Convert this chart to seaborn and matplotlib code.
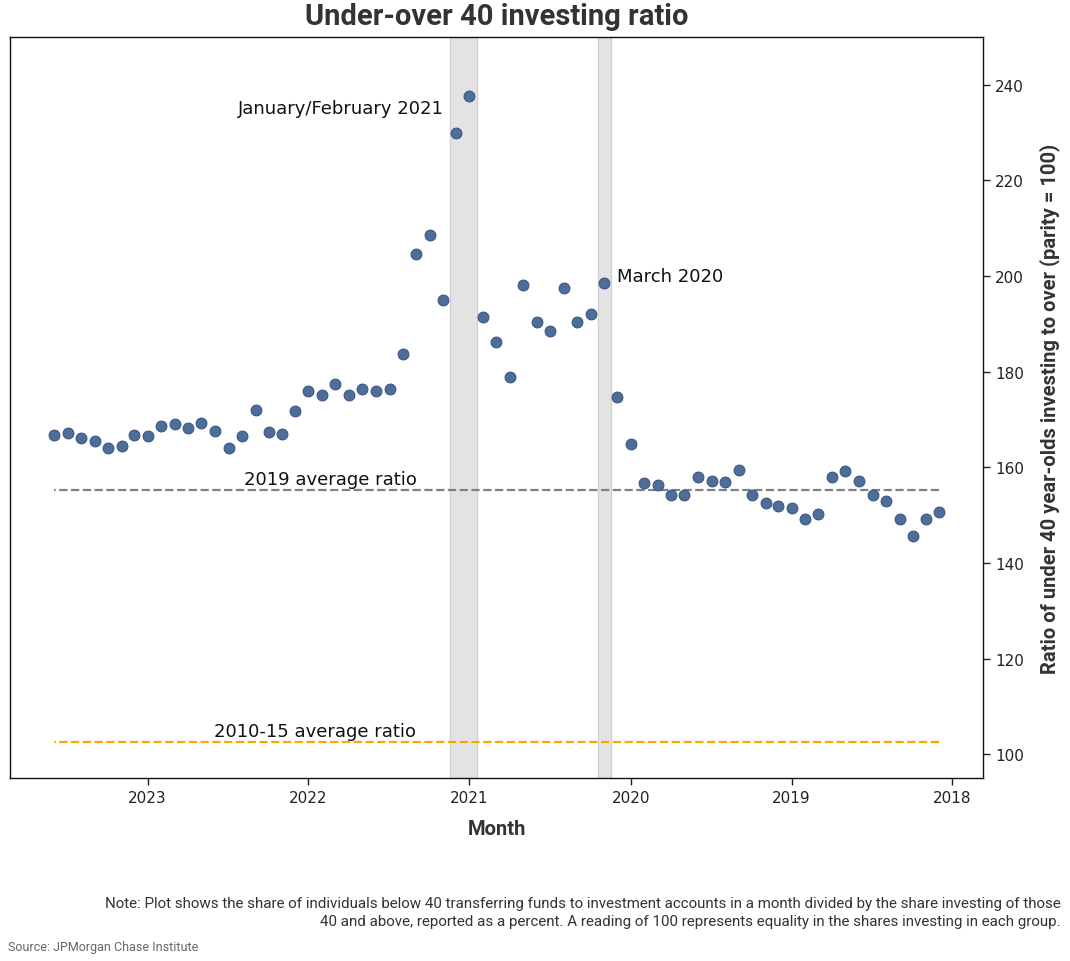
import matplotlib
matplotlib.use("Agg")
import matplotlib.pyplot as plt
import matplotlib.dates as mdates
import numpy as np
import pandas as pd
import seaborn as sns

# ---------------- data ----------------
start_month = "2018-02-01"
end_month = "2023-08-01"
ratio = [
    150.6, 149.2, 145.6, 149.2, 153.0, 154.3, 157.1, 159.2, 157.9, 150.2, 149.2,   # Feb-Dec 2018
    151.4, 151.8, 152.5, 154.1, 159.4, 157.0, 157.1, 158.0, 154.1, 154.1, 156.3, 156.7,  # 2019
    164.8, 174.8, 198.6, 192.1, 190.3, 197.4, 188.6, 190.3, 198.2, 178.8, 186.1, 191.5,  # 2020
    237.7, 229.9, 194.9, 208.6, 204.7, 183.6, 176.3, 175.9, 176.3, 175.2, 177.4, 175.2,  # 2021
    176.0, 171.7, 166.9, 167.3, 171.9, 166.5, 164.0, 167.5, 169.2, 168.2, 169.0, 168.6,  # 2022
    166.6, 166.7, 164.4, 164.0, 165.4, 166.1, 167.1, 166.8,                              # Jan-Aug 2023
]
avg_2019 = 155.3
avg_2010_15 = 102.6
shade_periods = [("2020-02-15", "2020-03-15"), ("2020-12-15", "2021-02-15")]
annotations = [
    ("2021-03-01", 235.1, "January/February 2021", "right"),
    ("2020-02-01", 200.0, "March 2020", "left"),
]
title = "Under-over 40 investing ratio"
xlabel = "Month"
ylabel = "Ratio of under 40 year-olds investing to over (parity = 100)"
note = ("Note: Plot shows the share of individuals below 40 transferring funds to investment accounts in a month divided by the share investing of those\n"
        "40 and above, reported as a percent. A reading of 100 represents equality in the shares investing in each group.")
source = "Source: JPMorgan Chase Institute"

months = pd.date_range(start_month, end_month, freq="MS")
df = pd.DataFrame({"month": months, "ratio": ratio})

# ---------------- style ----------------
sns.set_style("ticks")
plt.rcParams["font.family"] = ["DejaVu Sans"]
narrow = ["Roboto", "DejaVu Sans"]

fig = plt.figure(figsize=(10.7, 9.62), dpi=100)
ax = fig.add_axes([0.0093, 0.1902, 0.9094, 0.7703])

for a, b in shade_periods:
    ax.axvspan(pd.Timestamp(a), pd.Timestamp(b), facecolor="#e3e3e3",
               edgecolor="#d2d2d2", linewidth=1.0, zorder=0)

sns.scatterplot(data=df, x="month", y="ratio", ax=ax, color="#4e6e9a",
                edgecolor="#3a5885", linewidth=0.8, s=60, zorder=3, legend=False)

ax.hlines(avg_2019, months[0], months[-1], colors="#808080", linestyles="--",
          linewidth=1.6, zorder=2)
ax.hlines(avg_2010_15, months[0], months[-1], colors="#ffa500", linestyles="--",
          linewidth=1.6, zorder=2)

ax.text(pd.Timestamp("2021-05-01"), avg_2019 + 1.3, "2019 average ratio",
        ha="right", va="baseline", fontsize=13, color="#111111")
ax.text(pd.Timestamp("2021-05-01"), avg_2010_15 + 1.1, "2010-15 average ratio",
        ha="right", va="baseline", fontsize=13, color="#111111")
for d, yv, txt, ha in annotations:
    ax.text(pd.Timestamp(d), yv, txt, ha=ha, va="center", fontsize=13, color="#111111")

ax.set_ylim(95, 250)
ax.set_yticks(np.arange(100, 241, 20))
ax.invert_xaxis()
ax.xaxis.set_major_locator(mdates.YearLocator())
ax.xaxis.set_major_formatter(mdates.DateFormatter("%Y"))
ax.yaxis.tick_right()
ax.yaxis.set_label_position("right")
ax.tick_params(axis="both", labelsize=11, length=5, width=1, colors="#222222")
for sp in ax.spines.values():
    sp.set_visible(True)
    sp.set_color("#111111")
    sp.set_linewidth(1.0)

ax.set_xlabel(xlabel, fontsize=14.5, fontweight="bold", family=narrow,
              color="#333333", labelpad=10)
ax.set_ylabel(ylabel, fontsize=14.5, fontweight="bold", family=narrow,
              color="#333333", labelpad=11)
ax.set_title(title, fontsize=21, fontweight="bold", family=narrow,
             color="#333333", pad=9)

fig.text(1061 / 1070, 1 - 897 / 962, note, ha="right", va="top",
         multialignment="right", fontsize=10.9, family=narrow, color="#333333",
         linespacing=1.4)
fig.text(8 / 1070, 1 - 948 / 962, source, ha="left", va="center",
         fontsize=9, family=narrow, color="#666666")

fig.savefig("out.png", dpi=100)
